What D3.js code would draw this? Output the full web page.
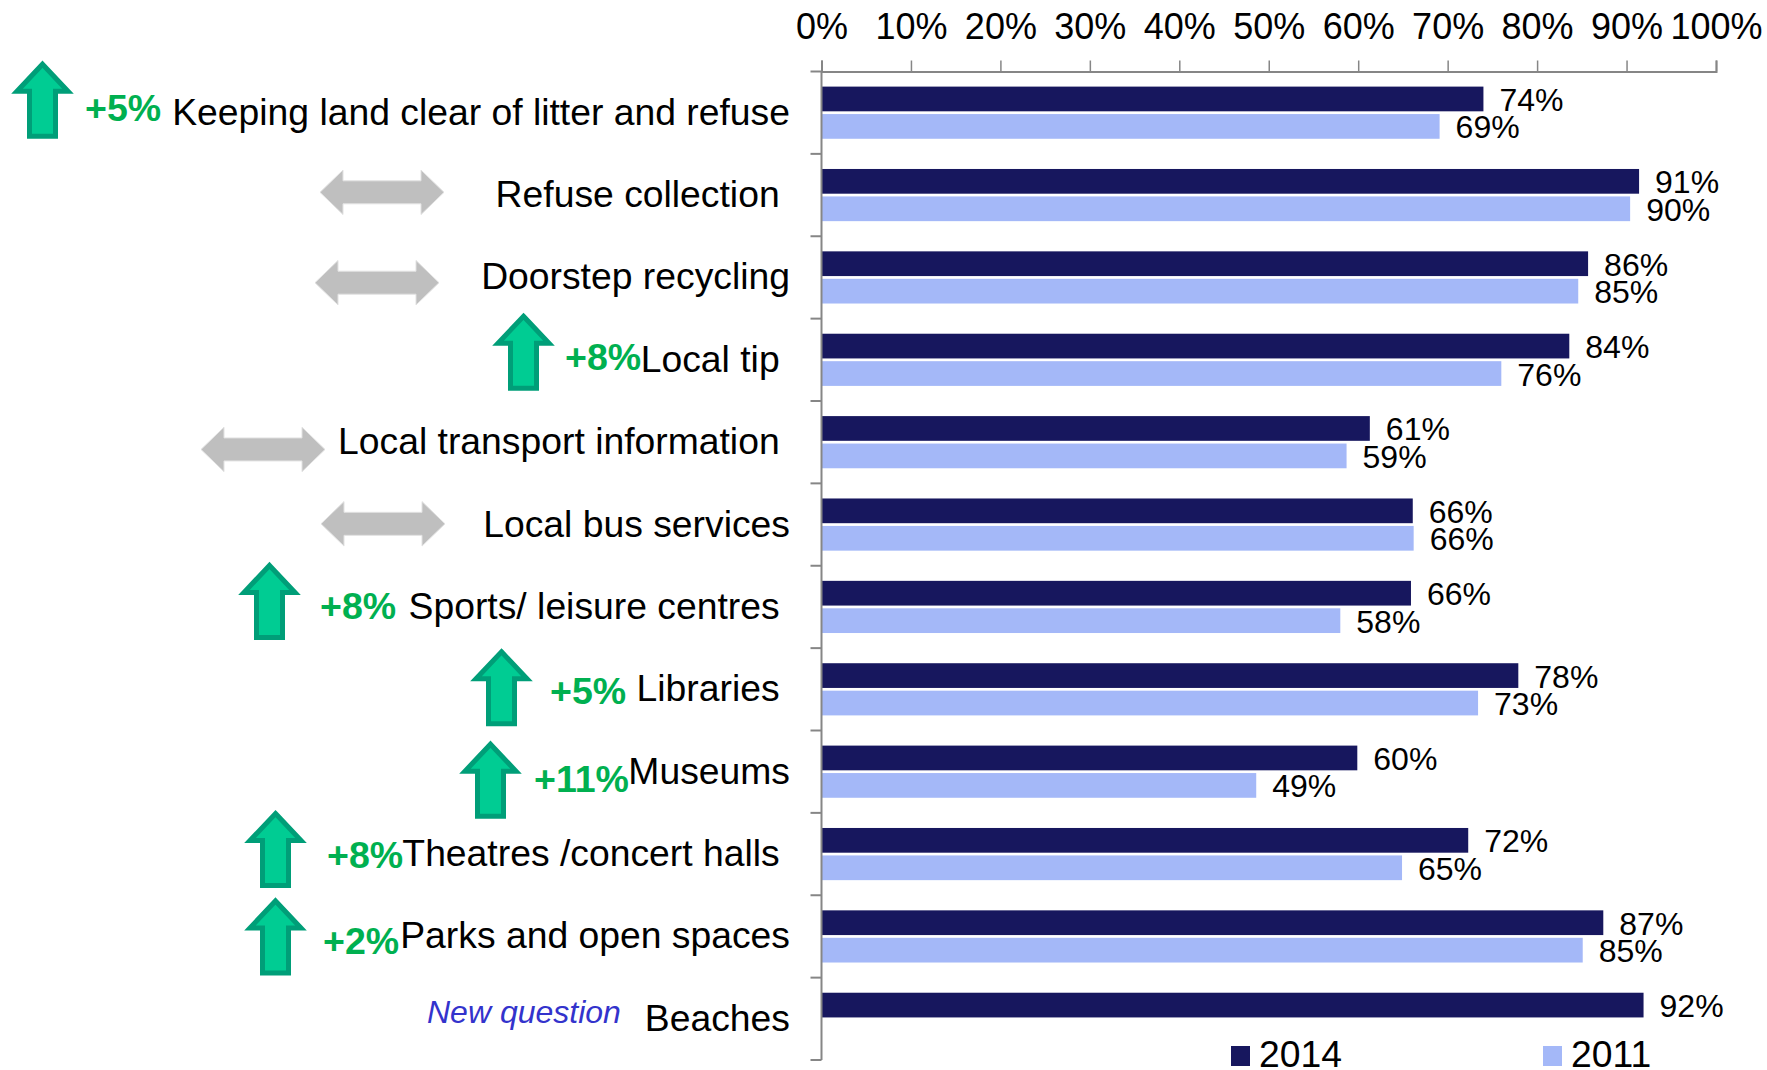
<!DOCTYPE html>
<html>
<head>
<meta charset="utf-8">
<title>Satisfaction with services 2014 vs 2011</title>
<script src="https://cdn.jsdelivr.net/npm/d3@7"></script>
<style>
	html, body { margin: 0; padding: 0; background: #fff; }
	svg { display: block; }
	text { font-family: "Liberation Sans", Arial, sans-serif; fill: #000; white-space: pre; }
</style>
</head>
<body>
<div id="viz_area"></div>
<script>
// trailing spaces are in the original labels, they push some of them left
var categories = [
	"Keeping land clear of litter and refuse",
	"Refuse collection ",
	"Doorstep recycling",
	"Local tip ",
	"Local transport information ",
	"Local bus services",
	"Sports/ leisure centres ",
	"Libraries ",
	"Museums",
	"Theatres /concert halls ",
	"Parks and open spaces",
	"Beaches"
];
var seriesNames = ["2014", "2011"];
// the labels show them rounded
var values2014 = [74, 91.4, 85.7, 83.6, 61.3, 66.1, 65.9, 77.9, 59.9, 72.3, 87.4, 91.9];
var values2011 = [69.1, 90.4, 84.6, 76, 58.7, 66.2, 58, 73.4, 48.6, 64.9, 85.1, null];
var xTicks = [0, 10, 20, 30, 40, 50, 60, 70, 80, 90, 100];

var upCategories = ["Keeping land clear of litter and refuse", "Local tip ", "Sports/ leisure centres ",
	"Libraries ", "Museums", "Theatres /concert halls ", "Parks and open spaces"];
var upChanges = ["+5%", "+8%", "+8%", "+5%", "+11%", "+8%", "+2%"];
var flatCategories = ["Refuse collection ", "Doorstep recycling", "Local transport information ", "Local bus services"];
var newQuestionText = "New question";

// hand placed callouts, same order as the lists above (pixels, dy is from the category centre)
var upLayout = [
	{ x: 14.5, dy: -51, tx: 85, tdy: 8 },
	{ x: 495.5, dy: -46, tx: 565, tdy: 10 },
	{ x: 241.5, dy: -44, tx: 320, tdy: 12 },
	{ x: 473.5, dy: -40, tx: 550, tdy: 15 },
	{ x: 462.5, dy: -30, tx: 534, tdy: 20 },
	{ x: 247.5, dy: -43, tx: 327, tdy: 14 },
	{ x: 247.5, dy: -38, tx: 323, tdy: 18 }
];
var flatLayout = [
	{ x: 320, dy: -25 },
	{ x: 315, dy: -17 },
	{ x: 201, dy: -15 },
	{ x: 321, dy: -23 }
];

function __init__() {
	barChart();
}

// up arrow outline inside a box
function upArrow(x, y) {
	var w = 51, h = 72, shaftW = 26, headH = 27;
	var cx = x + w / 2, p = d3.path();
	p.moveTo(cx, y);
	p.lineTo(x + w, y + headH);
	p.lineTo(cx + shaftW / 2, y + headH);
	p.lineTo(cx + shaftW / 2, y + h);
	p.lineTo(cx - shaftW / 2, y + h);
	p.lineTo(cx - shaftW / 2, y + headH);
	p.lineTo(x, y + headH);
	p.closePath();
	return p.toString();
}

function doubleArrow(x, y) {
	var w = 124, h = 44.5, headW = 23, shaftH = 23;
	var top = y + (h - shaftH) / 2, bottom = top + shaftH, p = d3.path();
	p.moveTo(x, y + h / 2);
	p.lineTo(x + headW, y);
	p.lineTo(x + headW, top);
	p.lineTo(x + w - headW, top);
	p.lineTo(x + w - headW, y);
	p.lineTo(x + w, y + h / 2);
	p.lineTo(x + w - headW, y + h);
	p.lineTo(x + w - headW, bottom);
	p.lineTo(x + headW, bottom);
	p.lineTo(x + headW, y + h);
	p.closePath();
	return p.toString();
}

function barChart() {
	var w = 1767;
	var h = 1070;
	var left = 821.5, right = 1716, top = 71.5, bottom = 1060;
	var darkBlue = "#17175e", lightBlue = "#a4b8f8", axisGrey = "#868686";

	var svg = d3.select("#viz_area")
		.append("svg")
		.attr("width", w)
		.attr("height", h);

	var x = d3.scaleLinear().domain([0, 100]).range([left, right]);
	var y = d3.scaleBand().domain(categories).range([top, bottom]);
	var yInner = d3.scaleBand().domain(seriesNames).range([0, y.bandwidth()])
		.paddingInner(0.1).paddingOuter(0.55);
	var centre = (c) => y(c) + y.bandwidth() / 2;

	// bars
	var series = [
		{ name: seriesNames[0], values: values2014, color: darkBlue },
		{ name: seriesNames[1], values: values2011, color: lightBlue }
	];
	series.forEach(function(s) {
		var rows = categories.map((c, i) => ({ cat: c, value: s.values[i] })).filter((d) => d.value !== null);

		svg.selectAll("rect.bar" + s.name)
			.data(rows)
			.enter()
			.append("rect")
			.attr("class", "bar" + s.name)
			.attr("x", x(0))
			.attr("y", (d) => y(d.cat) + yInner(s.name))
			.attr("width", (d) => x(d.value) - x(0))
			.attr("height", yInner.bandwidth())
			.style("fill", s.color);

		svg.selectAll("text.val" + s.name)
			.data(rows)
			.enter()
			.append("text")
			.attr("class", "val" + s.name)
			.attr("x", (d) => x(d.value) + 16)
			.attr("y", (d) => y(d.cat) + yInner(s.name) + yInner.bandwidth() / 2 + 12)
			.style("font-size", "32px")
			.text((d) => d3.format(".0f")(d.value) + "%");
	});

	// top axis
	var xAxis = svg.append("g")
		.attr("transform", "translate(0," + top + ")")
		.call(d3.axisTop(x).tickValues(xTicks).tickFormat((d) => d + "%").tickSize(11).tickSizeOuter(11).tickPadding(10));
	xAxis.selectAll("text").style("font-size", "36px").attr("dy", 0).attr("y", -32.5);
	xAxis.selectAll("line").style("stroke", axisGrey).style("stroke-width", 1.5);
	xAxis.select(".domain").style("stroke", axisGrey).style("stroke-width", 2);

	// left axis, labels only, the ticks sit between the categories
	var yAxis = svg.append("g")
		.attr("transform", "translate(" + left + ",0)")
		.call(d3.axisLeft(y).tickSize(0).tickPadding(31.5));
	yAxis.selectAll("text").style("font-size", "37.3px");
	yAxis.select(".domain").remove();

	svg.append("line")
		.attr("x1", left).attr("x2", left)
		.attr("y1", top).attr("y2", bottom)
		.style("stroke", axisGrey).style("stroke-width", 2);
	svg.selectAll("line.catTick")
		.data(categories.map((c) => y(c)).concat([bottom]))
		.enter()
		.append("line")
		.attr("class", "catTick")
		.attr("x1", left - 11).attr("x2", left)
		.attr("y1", (d) => d).attr("y2", (d) => d)
		.style("stroke", axisGrey).style("stroke-width", 2);

	// green arrows + change labels
	upCategories.forEach(function(c, i) {
		var pos = upLayout[i];
		svg.append("path")
			.attr("d", upArrow(pos.x + 2.5, centre(c) + pos.dy + 2.5))
			.style("fill", "#00cc93")
			.style("stroke", "#009e78")
			.style("stroke-width", 5);
		svg.append("text")
			.attr("x", pos.tx)
			.attr("y", centre(c) + pos.tdy)
			.style("font-size", "37.5px")
			.style("font-weight", "bold")
			.style("fill", "#00b050")
			.text(upChanges[i]);
	});

	// grey "no change" arrows
	svg.selectAll("path.flat")
		.data(flatCategories)
		.enter()
		.append("path")
		.attr("class", "flat")
		.attr("d", (c, i) => doubleArrow(flatLayout[i].x, centre(c) + flatLayout[i].dy))
		.style("fill", "#bfbfbf")
		.style("stroke", "#e2e2e2")
		.style("stroke-width", 1);

	svg.append("text")
		.attr("x", 427)
		.attr("y", centre("Beaches") + 4)
		.style("font-size", "32px")
		.style("font-style", "italic")
		.style("fill", "#3333cc")
		.text(newQuestionText);

	// legend
	var legendX = [1231, 1543];
	seriesNames.forEach(function(name, i) {
		svg.append("rect")
			.attr("x", legendX[i]).attr("y", 1046)
			.attr("width", 19).attr("height", 20)
			.style("fill", series[i].color);
		svg.append("text")
			.attr("x", legendX[i] + 28).attr("y", 1067)
			.style("font-size", "37.3px")
			.text(name);
	});
}

window.onload = __init__;
</script>
</body>
</html>
